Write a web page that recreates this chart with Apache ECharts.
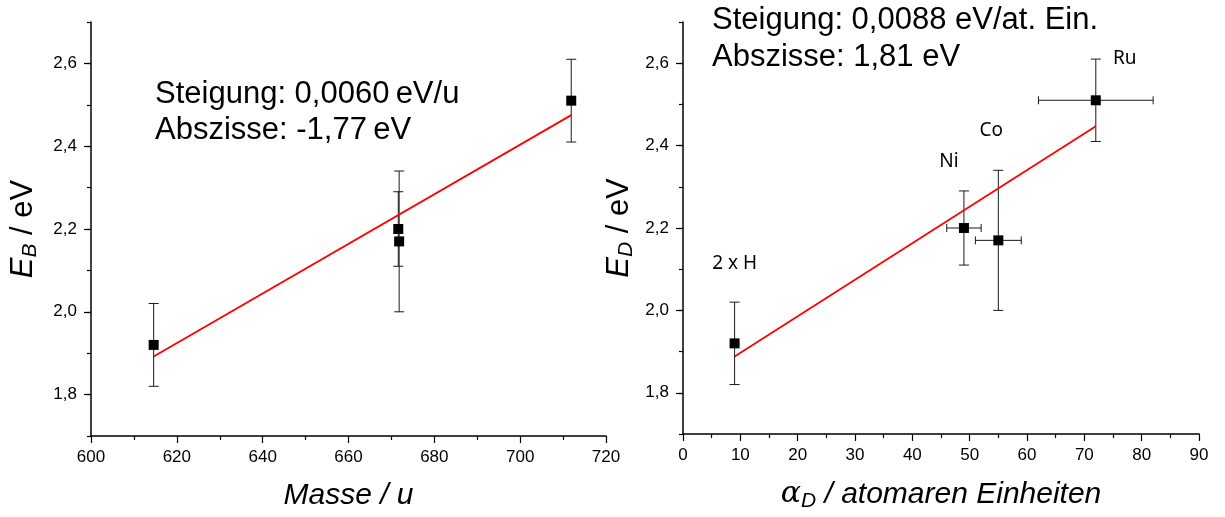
<!DOCTYPE html>
<html>
<head>
<meta charset="utf-8">
<script src="https://cdn.jsdelivr.net/npm/echarts@6/dist/echarts.min.js"></script>
<style>
html,body{margin:0;padding:0;background:#fff;}
#c{width:1225px;height:517px;}
</style>
</head>
<body>
<div id="c"></div>
<script>
// ---- data ----
const massX = [614.6, 671.6, 671.8, 711.9];
const massY = [1.92, 2.20, 2.17, 2.51];
const massYErr = [0.10, 0.09, 0.17, 0.10];
const massFitX = [614.6, 711.9];
const massFitY = [1.892, 2.475];

const alphaX = [9, 49, 55, 72];
const alphaY = [1.92, 2.20, 2.17, 2.51];
const alphaYErr = [0.10, 0.09, 0.17, 0.10];
const alphaXErr = [0, 3, 4, 10];
const alphaNames = ['2 x H', 'Ni', 'Co', 'Ru'];
const alphaFitX = [9, 72];
const alphaFitY = [1.888, 2.447];

const yMajor = [1.8, 2.0, 2.2, 2.4, 2.6];
const massMajor = [600, 620, 640, 660, 680, 700, 720];
const alphaMajor = [0, 10, 20, 30, 40, 50, 60, 70, 80, 90];

const leftText = ['Steigung: 0,0060\u2009eV/u', 'Abszisse: -1,77\u2009eV'];
const rightText = ['Steigung: 0,0088 eV/at. Ein.', 'Abszisse: 1,81 eV'];

// ---- styling ----
const FONT = 'Liberation Sans, Arial, sans-serif';
const labelOffsets = [[0, -80], [-15, -66], [-7, -110], [29, -42]];

function fmtNum(v, d) { return v.toFixed(d).replace('.', ','); }

function yAxes(gridIndex) {
  return [{
    type: 'value', gridIndex: gridIndex, position: 'left', min: 1.7, max: 2.7, interval: 0.1,
    axisLine: { show: true, lineStyle: { color: '#000', width: 1.5 } },
    axisTick: { show: true, inside: false, length: 4, lineStyle: { color: '#000', width: 1.2 } },
    axisLabel: {
      color: '#000', fontFamily: FONT, fontSize: 17, margin: 14,
      formatter: function (v) { const k = Math.round(v * 10); return (k % 2 === 0 && k >= 18 && k <= 26) ? fmtNum(k / 10, 1) : ''; }
    },
    splitLine: { show: false },
    name: gridIndex === 0 ? '{e|E}{s|B}{n| / eV}' : '{e|E}{s|D}{n| / eV}',
    nameLocation: 'middle', nameRotate: 90, nameGap: gridIndex === 0 ? 50 : 46,
    nameTextStyle: {
      rich: {
        e: { fontFamily: FONT, fontSize: 31, fontStyle: 'italic', color: '#000' },
        s: { fontFamily: FONT, fontSize: 21, fontStyle: 'italic', color: '#000', padding: [14, 0, 0, 0] },
        n: { fontFamily: FONT, fontSize: 31, color: '#000' }
      }
    }
  }, {
    type: 'value', gridIndex: gridIndex, position: 'left', offset: 0, min: 1.7, max: 2.7,
    axisLine: { show: false },
    axisTick: { show: true, customValues: yMajor, length: 7, lineStyle: { color: '#000', width: 1.2 } },
    axisLabel: { show: false },
    splitLine: { show: false }
  }];
}

function xAxis(gridIndex) {
  const isMass = gridIndex === 0;
  return {
    type: 'value', gridIndex: gridIndex,
    min: isMass ? 600 : 0, max: isMass ? 720 : 90, interval: isMass ? 20 : 10,
    axisLine: { show: true, onZero: false, lineStyle: { color: '#000', width: 1.5 } },
    axisTick: { show: true, length: 7, lineStyle: { color: '#000', width: 1.2 } },
    minorTick: { show: true, splitNumber: 2, length: 4, lineStyle: { color: '#000', width: 1.2 } },
    axisLabel: { color: '#000', fontFamily: FONT, fontSize: 17, margin: 13,
      customValues: isMass ? massMajor : alphaMajor },
    splitLine: { show: false }, minorSplitLine: { show: false },
    name: isMass ? '{n|Masse / u}' : '{a|\u03B1}{s|D}{n| / atomaren Einheiten}',
    nameLocation: 'middle', nameGap: isMass ? 45 : 43,
    nameTextStyle: {
      rich: {
        a: { fontFamily: 'DejaVu Serif, serif', fontSize: 30, fontStyle: 'italic', color: '#000' },
        s: { fontFamily: FONT, fontSize: 21, fontStyle: 'italic', color: '#000', padding: [14, 0, 0, 0] },
        n: { fontFamily: FONT, fontSize: 30, fontStyle: 'italic', color: '#000' }
      }
    }
  };
}

function errRender(params, api) {
  const x = api.value(0), y = api.value(1), ey = api.value(2), ex = api.value(3);
  const top = api.coord([x, y + ey]);
  const bot = api.coord([x, y - ey]);
  const st = { stroke: '#1a1a1a', lineWidth: 1 };
  const ch = [
    { type: 'line', shape: { x1: top[0], y1: top[1], x2: bot[0], y2: bot[1] }, style: st },
    { type: 'line', shape: { x1: top[0] - 5, y1: top[1], x2: top[0] + 5, y2: top[1] }, style: st },
    { type: 'line', shape: { x1: bot[0] - 5, y1: bot[1], x2: bot[0] + 5, y2: bot[1] }, style: st }
  ];
  if (ex > 0) {
    const l = api.coord([x - ex, y]);
    const r = api.coord([x + ex, y]);
    ch.push({ type: 'line', shape: { x1: l[0], y1: l[1], x2: r[0], y2: r[1] }, style: st });
    ch.push({ type: 'line', shape: { x1: l[0], y1: l[1] - 4, x2: l[0], y2: l[1] + 4 }, style: st });
    ch.push({ type: 'line', shape: { x1: r[0], y1: r[1] - 4, x2: r[0], y2: r[1] + 4 }, style: st });
  }
  return { type: 'group', children: ch };
}

const massErrData = massX.map((x, i) => [x, massY[i], massYErr[i], 0]);
const alphaErrData = alphaX.map((x, i) => [x, alphaY[i], alphaYErr[i], alphaXErr[i]]);

const chart = echarts.init(document.getElementById('c'), null, { renderer: 'canvas' });
const ya = yAxes(0), yb = yAxes(1);
const TFONT = '31px ' + FONT;
chart.setOption({
  animation: false,
  backgroundColor: '#fff',
  grid: [
    { left: 91, top: 22, width: 515, height: 414 },
    { left: 683, top: 22, width: 516, height: 414 }
  ],
  xAxis: [xAxis(0), xAxis(1)],
  yAxis: [ya[0], ya[1], yb[0], yb[1]],
  graphic: [
    { type: 'text', left: 155, top: 79, style: { text: leftText[0], font: TFONT, fill: '#000' } },
    { type: 'text', left: 155, top: 115, style: { text: leftText[1], font: TFONT, fill: '#000' } },
    { type: 'text', left: 712, top: 5, style: { text: rightText[0], font: TFONT, fill: '#000' } },
    { type: 'text', left: 712, top: 42, style: { text: rightText[1], font: TFONT, fill: '#000' } }
  ],
  series: [
    { type: 'custom', xAxisIndex: 0, yAxisIndex: 0, renderItem: errRender, data: massErrData, z: 2 },
    { type: 'line', xAxisIndex: 0, yAxisIndex: 0, data: massFitX.map((x, i) => [x, massFitY[i]]),
      symbol: 'none', lineStyle: { color: '#ff0000', width: 1.8 }, z: 3 },
    { type: 'scatter', xAxisIndex: 0, yAxisIndex: 0, data: massX.map((x, i) => [x, massY[i]]),
      symbol: 'rect', symbolSize: 10, itemStyle: { color: '#000', opacity: 1 }, z: 4 },
    { type: 'custom', xAxisIndex: 1, yAxisIndex: 2, renderItem: errRender, data: alphaErrData, z: 2 },
    { type: 'line', xAxisIndex: 1, yAxisIndex: 2, data: alphaFitX.map((x, i) => [x, alphaFitY[i]]),
      symbol: 'none', lineStyle: { color: '#ff0000', width: 1.8 }, z: 3 },
    { type: 'scatter', xAxisIndex: 1, yAxisIndex: 2,
      data: alphaX.map((x, i) => ({
        value: [x, alphaY[i]],
        label: { show: true, formatter: alphaNames[i], position: 'inside', offset: labelOffsets[i],
          fontFamily: 'Noto Sans, sans-serif', fontSize: 19, color: '#000', textBorderWidth: 0 }
      })),
      symbol: 'rect', symbolSize: 10, itemStyle: { color: '#000', opacity: 1 }, z: 4 }
  ]
});
</script>
</body>
</html>
